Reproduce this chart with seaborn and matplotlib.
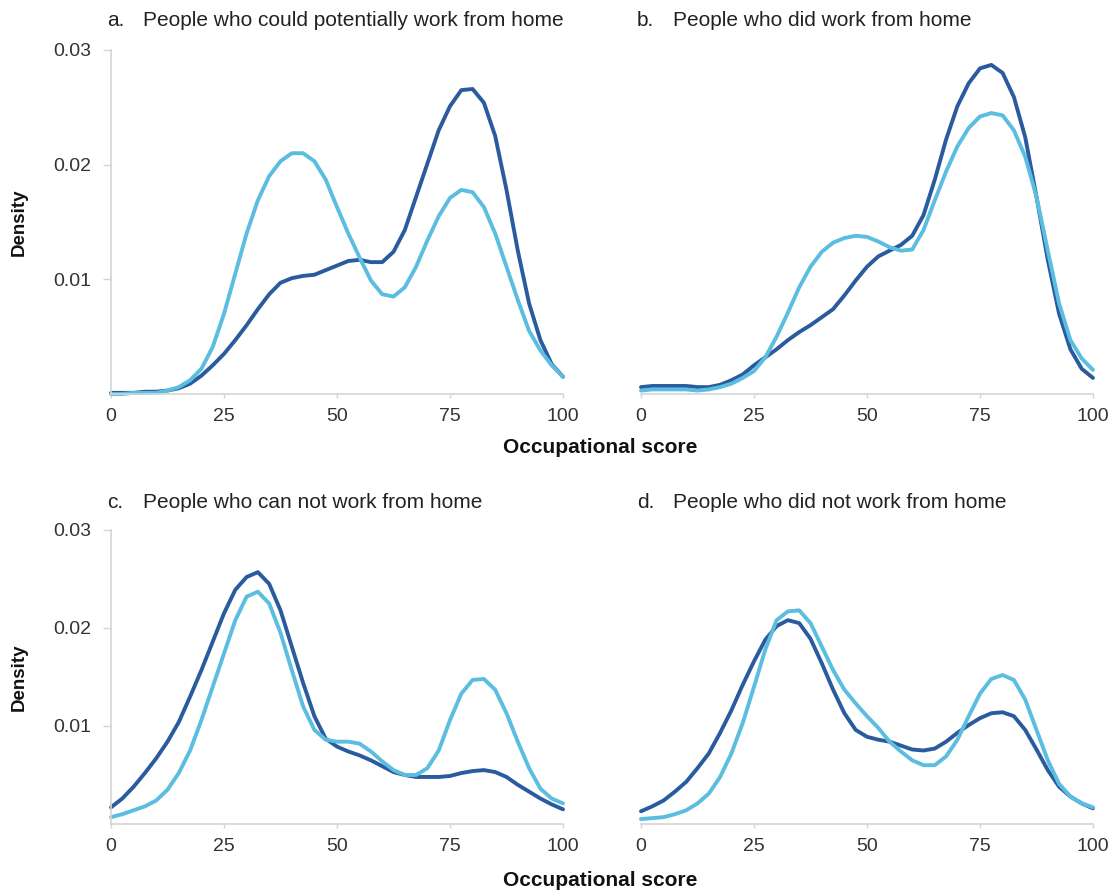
import matplotlib
matplotlib.use('Agg')
import matplotlib.pyplot as plt
import pandas as pd
import seaborn as sns

sns.set_theme(style='white')
plt.rcParams['font.family'] = ['Liberation Sans', 'DejaVu Sans']

DARK = '#2a5b9f'
LIGHT = '#5bbde0'

# значения: балл (шаг 2.5) и плотность
score = [0, 2.5, 5, 7.5, 10, 12.5, 15, 17.5, 20, 22.5,
         25, 27.5, 30, 32.5, 35, 37.5, 40, 42.5, 45, 47.5,
         50, 52.5, 55, 57.5, 60, 62.5, 65, 67.5, 70, 72.5,
         75, 77.5, 80, 82.5, 85, 87.5, 90, 92.5, 95, 97.5, 100]

a_dark = [0.0001, 0.0001, 0.0001, 0.0002, 0.0002, 0.0003, 0.0005, 0.0009, 0.0016, 0.0025,
          0.0035, 0.0047, 0.0060, 0.0074, 0.0087, 0.0097, 0.0101, 0.0103, 0.0104, 0.0108,
          0.0112, 0.0116, 0.0117, 0.0115, 0.0115, 0.0124, 0.0143, 0.0172, 0.0201, 0.0230,
          0.0251, 0.0265, 0.0266, 0.0254, 0.0225, 0.0178, 0.0125, 0.0079, 0.0047, 0.0026, 0.0015]
a_light = [0.0000, 0.0000, 0.0001, 0.0001, 0.0001, 0.0003, 0.0006, 0.0012, 0.0022, 0.0041,
           0.0070, 0.0105, 0.0140, 0.0169, 0.0190, 0.0203, 0.0210, 0.0210, 0.0203, 0.0187,
           0.0163, 0.0140, 0.0119, 0.0099, 0.0087, 0.0085, 0.0093, 0.0111, 0.0134, 0.0155,
           0.0171, 0.0178, 0.0176, 0.0163, 0.0140, 0.0111, 0.0082, 0.0055, 0.0038, 0.0025, 0.0015]

b_dark = [0.0006, 0.0007, 0.0007, 0.0007, 0.0007, 0.0006, 0.0006, 0.0008, 0.0012, 0.0017,
          0.0025, 0.0032, 0.0039, 0.0047, 0.0054, 0.0060, 0.0067, 0.0074, 0.0086, 0.0099,
          0.0111, 0.0120, 0.0125, 0.0130, 0.0138, 0.0156, 0.0187, 0.0222, 0.0251, 0.0271,
          0.0284, 0.0287, 0.0280, 0.0259, 0.0224, 0.0172, 0.0117, 0.0070, 0.0039, 0.0022, 0.0014]
b_light = [0.0003, 0.0004, 0.0004, 0.0004, 0.0004, 0.0003, 0.0004, 0.0006, 0.0009, 0.0014,
           0.0020, 0.0032, 0.0050, 0.0071, 0.0093, 0.0111, 0.0124, 0.0132, 0.0136, 0.0138,
           0.0137, 0.0133, 0.0128, 0.0125, 0.0126, 0.0143, 0.0169, 0.0194, 0.0216, 0.0232,
           0.0242, 0.0245, 0.0243, 0.0230, 0.0207, 0.0172, 0.0125, 0.0079, 0.0047, 0.0031, 0.0021]

c_dark = [0.0017, 0.0026, 0.0038, 0.0052, 0.0067, 0.0084, 0.0104, 0.0130, 0.0157, 0.0186,
          0.0215, 0.0239, 0.0252, 0.0257, 0.0245, 0.0218, 0.0181, 0.0144, 0.0110, 0.0087,
          0.0079, 0.0074, 0.0070, 0.0065, 0.0059, 0.0053, 0.0050, 0.0048, 0.0048, 0.0048,
          0.0049, 0.0052, 0.0054, 0.0055, 0.0053, 0.0048, 0.0040, 0.0033, 0.0026, 0.0020, 0.0015]
c_light = [0.0007, 0.0010, 0.0014, 0.0018, 0.0024, 0.0035, 0.0052, 0.0075, 0.0106, 0.0140,
           0.0174, 0.0208, 0.0232, 0.0237, 0.0225, 0.0195, 0.0157, 0.0120, 0.0096, 0.0086,
           0.0084, 0.0084, 0.0082, 0.0074, 0.0064, 0.0055, 0.0050, 0.0050, 0.0057, 0.0075,
           0.0106, 0.0133, 0.0147, 0.0148, 0.0137, 0.0113, 0.0084, 0.0057, 0.0036, 0.0026, 0.0021]

d_dark = [0.0013, 0.0018, 0.0024, 0.0033, 0.0043, 0.0057, 0.0072, 0.0093, 0.0116, 0.0142,
          0.0166, 0.0188, 0.0202, 0.0208, 0.0205, 0.0189, 0.0164, 0.0137, 0.0113, 0.0096,
          0.0089, 0.0086, 0.0084, 0.0080, 0.0076, 0.0075, 0.0077, 0.0084, 0.0093, 0.0101,
          0.0108, 0.0113, 0.0114, 0.0110, 0.0096, 0.0076, 0.0055, 0.0038, 0.0028, 0.0021, 0.0016]
d_light = [0.0005, 0.0006, 0.0007, 0.0010, 0.0014, 0.0021, 0.0031, 0.0048, 0.0072, 0.0103,
           0.0140, 0.0178, 0.0208, 0.0217, 0.0218, 0.0205, 0.0181, 0.0157, 0.0137, 0.0123,
           0.0110, 0.0098, 0.0084, 0.0074, 0.0065, 0.0060, 0.0060, 0.0069, 0.0086, 0.0110,
           0.0133, 0.0148, 0.0152, 0.0147, 0.0127, 0.0096, 0.0065, 0.0041, 0.0028, 0.0021, 0.0017]

letters = ['a.', 'b.', 'c.', 'd.']
titles = [
    'People who could potentially work from home',
    'People who did work from home',
    'People who can not work from home',
    'People who did not work from home',
]
panels = [(a_dark, a_light), (b_dark, b_light), (c_dark, c_light), (d_dark, d_light)]

W, H = 1117, 891
fig = plt.figure(figsize=(W / 100, H / 100), dpi=100)

# положение осей в пикселях: left, top, right, bottom
boxes = [
    (111, 50, 563, 394),
    (641, 50, 1093, 394),
    (111, 530, 563, 824),
    (641, 530, 1093, 824),
]
title_y = [21, 21, 503, 503]

grey = '#d4d4d4'
for i, (box, pan) in enumerate(zip(boxes, panels)):
    l, t, r, b = box
    ax = fig.add_axes([l / W, 1 - b / H, (r - l) / W, (b - t) / H])
    dark, light = pan
    df = pd.concat([
        pd.DataFrame({'score': score, 'density': dark, 'group': 'Series 1'}),
        pd.DataFrame({'score': score, 'density': light, 'group': 'Series 2'}),
    ])
    sns.lineplot(data=df, x='score', y='density', hue='group',
                 palette={'Series 1': DARK, 'Series 2': LIGHT},
                 linewidth=2.8, legend=False, ax=ax, clip_on=False,
                 solid_joinstyle='round', solid_capstyle='round')
    ax.set_xlim(0, 100)
    ax.set_ylim(0, 0.03)
    ax.set_xticks([0, 25, 50, 75, 100])
    ax.set_xticklabels(['0', '25', '50', '75', '100'])
    ax.set_xlabel('')
    ax.set_ylabel('')
    sns.despine(ax=ax, top=True, right=True, left=(i % 2 == 1))
    for s in ['left', 'bottom']:
        ax.spines[s].set_color(grey)
        ax.spines[s].set_linewidth(1.2)
    ax.tick_params(axis='x', colors=grey, labelcolor='#333333', length=3, width=1,
                   labelsize=14, pad=7, bottom=True)
    if i % 2 == 0:
        ax.set_yticks([0.01, 0.02, 0.03])
        ax.set_yticklabels(['0.01', '0.02', '0.03'])
        ax.tick_params(axis='y', colors=grey, labelcolor='#333333', length=6, width=1,
                       labelsize=14, pad=8, left=True)
        fig.text(19 / W, 1 - (t + b) / 2 / H, 'Density', fontsize=13.5, fontweight='bold',
                 color='#111111', rotation=90, ha='center', va='center')
    else:
        ax.set_yticks([])
    fig.text((l - 4) / W, 1 - title_y[i] / H, letters[i], fontsize=15, color='#222222',
             va='center', ha='left')
    fig.text((l + 32) / W, 1 - title_y[i] / H, titles[i], fontsize=15, color='#222222',
             va='center', ha='left')

for yy in [447, 880]:
    fig.text(600 / W, 1 - yy / H, 'Occupational score', fontsize=15, fontweight='bold',
             ha='center', va='center', color='#111111')

fig.savefig('out.png', dpi=100, facecolor='white')
